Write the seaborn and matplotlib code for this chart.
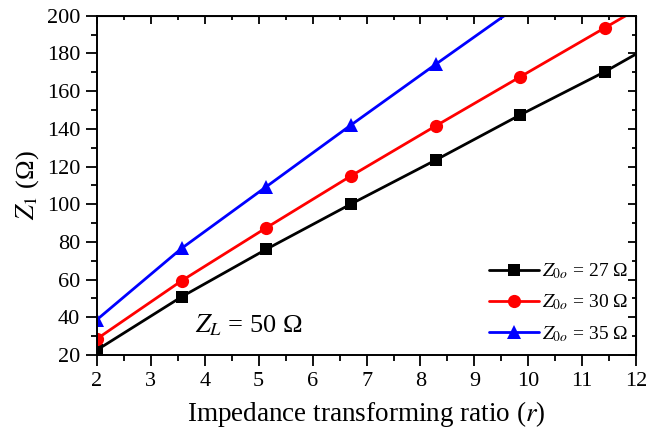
import numpy as np
import pandas as pd
import matplotlib
matplotlib.use("Agg")
import matplotlib.pyplot as plt
from matplotlib.ticker import MultipleLocator
import seaborn as sns

# values (markers every ~1.57 in r, last point = where the curve leaves the frame)
r_27 = [2.0, 3.57, 5.14, 6.71, 8.28, 9.85, 11.42, 12.0]
z1_27 = [22.7, 50.9, 76.1, 100.1, 123.4, 147.4, 170.3, 179.7]
r_30 = [2.0, 3.57, 5.14, 6.71, 8.28, 9.85, 11.42, 12.0]
z1_30 = [28.6, 59.4, 87.5, 115.0, 141.5, 167.6, 193.6, 203.2]
r_35 = [2.0, 3.57, 5.14, 6.71, 8.28, 9.85]
z1_35 = [38.8, 76.6, 109.3, 142.0, 174.2, 206.0]

labels = [r"$Z_{0o}$ = 27 Ω", r"$Z_{0o}$ = 30 Ω", r"$Z_{0o}$ = 35 Ω"]
x_ticks = [2, 3, 4, 5, 6, 7, 8, 9, 10, 11, 12]
y_ticks = [20, 40, 60, 80, 100, 120, 140, 160, 180, 200]

sns.set_style("ticks")
plt.rcParams["font.family"] = ["Liberation Serif", "DejaVu Serif"]
plt.rcParams["mathtext.fontset"] = "stix"
plt.rcParams["axes.edgecolor"] = "black"
plt.rcParams["xtick.color"] = "black"
plt.rcParams["ytick.color"] = "black"
plt.rcParams["text.color"] = "black"
plt.rcParams["axes.labelcolor"] = "black"

fig = plt.figure(figsize=(6.48, 4.37), dpi=100)
ax = fig.add_axes([0.1497, 0.1876, 0.832, 0.7764])

series = [
    (r_27, z1_27, "black", "s", 8, [0, 1, 2, 3, 4, 5, 6]),
    (r_30, z1_30, "red", "o", 9.5, [0, 1, 2, 3, 4, 5, 6]),
    (r_35, z1_35, "blue", "^", 10.5, [0, 1, 2, 3, 4]),
]
for (x, y, color, marker, ms, every), label in zip(series, labels):
    sns.lineplot(x=x, y=y, ax=ax, color=color, marker=marker, markersize=ms,
                 markevery=every, markeredgewidth=0, linewidth=2, label=label)

ax.set_xlim(2, 12)
ax.set_ylim(20, 200)
ax.set_xticks(x_ticks)
ax.set_yticks(y_ticks)
ax.xaxis.set_minor_locator(MultipleLocator(0.5))
ax.yaxis.set_minor_locator(MultipleLocator(10))
ax.tick_params(which="major", direction="out", length=8, width=1.3, labelsize=16, pad=4)
ax.tick_params(which="minor", direction="out", length=4, width=1.3)
for s in ax.spines.values():
    s.set_linewidth(1.4)

# inward ticks on top and right, like the original frame
top = ax.secondary_xaxis("top")
top.set_xticks(x_ticks)
top.xaxis.set_minor_locator(MultipleLocator(0.5))
top.tick_params(which="both", direction="in", labeltop=False, width=1.3)
top.tick_params(which="major", length=6)
top.tick_params(which="minor", length=3)
right = ax.secondary_yaxis("right")
right.set_yticks(y_ticks)
right.yaxis.set_minor_locator(MultipleLocator(10))
right.tick_params(which="both", direction="in", labelright=False, width=1.3)
right.tick_params(which="major", length=6)
right.tick_params(which="minor", length=3)

ax.set_xlabel("Impedance transforming ratio ($r$)", fontsize=19.5, labelpad=6)
ax.set_ylabel(r"$Z_1$ (Ω)", fontsize=19, labelpad=4)

ax.text(3.82, 32, r"$Z_L$ = 50 Ω", fontsize=19, ha="left", va="baseline")

ax.legend(loc="lower right", bbox_to_anchor=(1.0, 0.01), frameon=False, fontsize=14,
          handlelength=2.6, handletextpad=0.15, labelspacing=0.6, borderaxespad=0.0)

plt.savefig("out.png", dpi=100)
